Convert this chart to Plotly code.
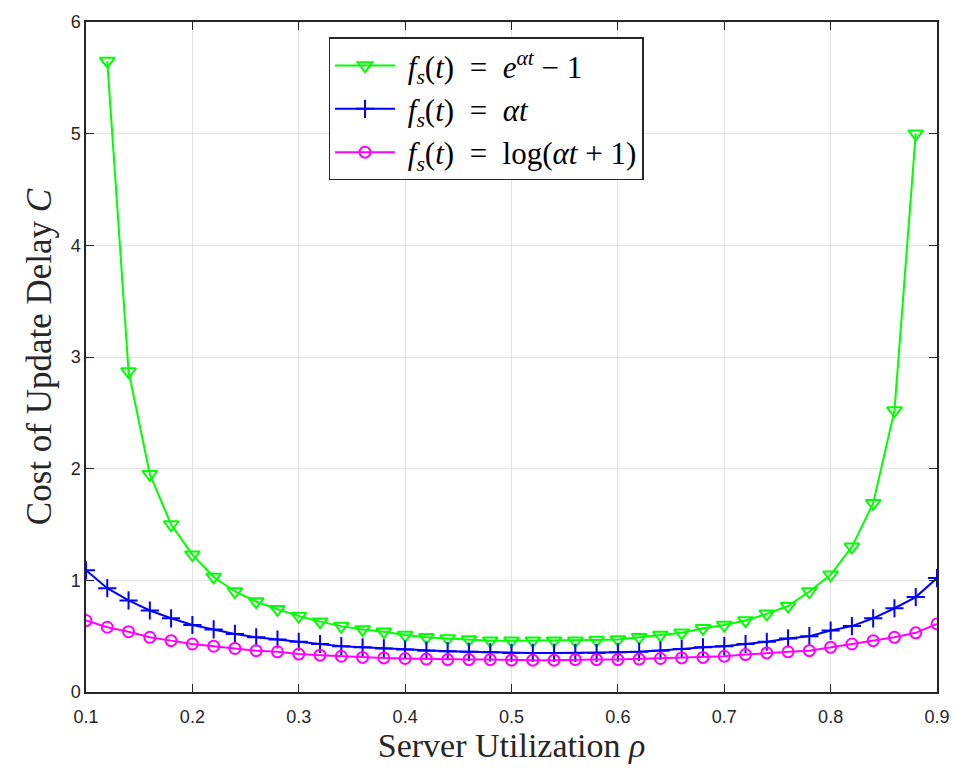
import plotly.graph_objects as go

x_all = [round(0.10 + 0.02 * i, 2) for i in range(41)]

x_exp = x_all[1:-1]
y_exp = [5.65, 2.87, 1.95, 1.50, 1.23, 1.03, 0.90, 0.81, 0.74, 0.68, 0.63, 0.59, 0.56, 0.54,
         0.51, 0.49, 0.48, 0.47, 0.46, 0.46, 0.46, 0.46, 0.46, 0.465, 0.47, 0.49, 0.51, 0.53,
         0.57, 0.60, 0.64, 0.70, 0.77, 0.90, 1.05, 1.30, 1.69, 2.52, 5.00]

y_lin = [1.09, 0.93, 0.82, 0.73, 0.66, 0.60, 0.56, 0.52, 0.49, 0.47, 0.45, 0.43, 0.41, 0.40,
         0.39, 0.38, 0.37, 0.365, 0.36, 0.355, 0.35, 0.35, 0.35, 0.35, 0.35, 0.355, 0.36, 0.37,
         0.385, 0.40, 0.41, 0.43, 0.45, 0.48, 0.50, 0.55, 0.59, 0.66, 0.75, 0.85, 1.02]

y_log = [0.64, 0.58, 0.54, 0.49, 0.46, 0.43, 0.41, 0.39, 0.37, 0.36, 0.34, 0.33, 0.32, 0.31,
         0.305, 0.30, 0.295, 0.29, 0.29, 0.29, 0.285, 0.285, 0.285, 0.29, 0.29, 0.29, 0.295,
         0.30, 0.305, 0.31, 0.32, 0.335, 0.35, 0.36, 0.37, 0.40, 0.43, 0.46, 0.49, 0.53, 0.61]

s1 = "&nbsp;"
s2 = "&nbsp;&nbsp;"
names = [
    f"{s1}<i>f<sub>s</sub></i>(<i>t</i>){s2}={s2}<i>e</i><sup><i>αt</i></sup>{s1}−{s1}1",
    f"{s1}<i>f<sub>s</sub></i>(<i>t</i>){s2}={s2}<i>αt</i>",
    f"{s1}<i>f<sub>s</sub></i>(<i>t</i>){s2}={s2}log(<i>αt</i>{s1}+{s1}1)",
]

serif = "Liberation Serif, Times New Roman, serif"

fig = go.Figure()
fig.add_trace(go.Scatter(x=x_exp, y=y_exp, mode="lines+markers", name=names[0],
                         line=dict(color="#00FF00", width=2),
                         marker=dict(symbol="triangle-down-open", size=13,
                                     line=dict(color="#00FF00", width=2))))
fig.add_trace(go.Scatter(x=x_all, y=y_lin, mode="lines+markers", name=names[1],
                         line=dict(color="#0000FF", width=2),
                         marker=dict(symbol="cross-thin-open", size=13,
                                     line=dict(color="#0000FF", width=2))))
fig.add_trace(go.Scatter(x=x_all, y=y_log, mode="lines+markers", name=names[2],
                         line=dict(color="#FF00FF", width=2),
                         marker=dict(symbol="circle-open", size=11,
                                     line=dict(color="#FF00FF", width=2))))

axis_common = dict(showgrid=True, gridcolor="#e3e3e3", gridwidth=1,
                   showline=True, linecolor="#262626", linewidth=1.5, mirror="ticks",
                   ticks="inside", ticklen=8, tickcolor="#262626", zeroline=False,
                   tickfont=dict(family="Liberation Sans, Arial", size=18, color="#262626"))

fig.update_xaxes(range=[0.1, 0.9], tickvals=[0.1, 0.2, 0.3, 0.4, 0.5, 0.6, 0.7, 0.8, 0.9],
                 ticktext=["0.1", "0.2", "0.3", "0.4", "0.5", "0.6", "0.7", "0.8", "0.9"],
                 ticklabelstandoff=8,
                 title=dict(text="Server Utilization <i>ρ</i>",
                            font=dict(family=serif, size=34, color="#262626"),
                            standoff=2),
                 **axis_common)
fig.update_yaxes(range=[0, 6], tickvals=[0, 1, 2, 3, 4, 5, 6],
                 title=dict(text="Cost of Update Delay <i>C</i>",
                            font=dict(family=serif, size=35, color="#262626"),
                            standoff=8),
                 **axis_common)

fig.update_layout(
    width=962, height=771,
    margin=dict(l=86, r=20, t=13, b=79),
    plot_bgcolor="white", paper_bgcolor="white",
    legend=dict(x=0.285, y=0.977, xanchor="left", yanchor="top",
                bgcolor="white", bordercolor="#262626", borderwidth=1.5,
                font=dict(family=serif, size=31, color="black"),
                itemwidth=60, tracegroupgap=0),
    showlegend=True,
)

fig.write_html("out.html")
